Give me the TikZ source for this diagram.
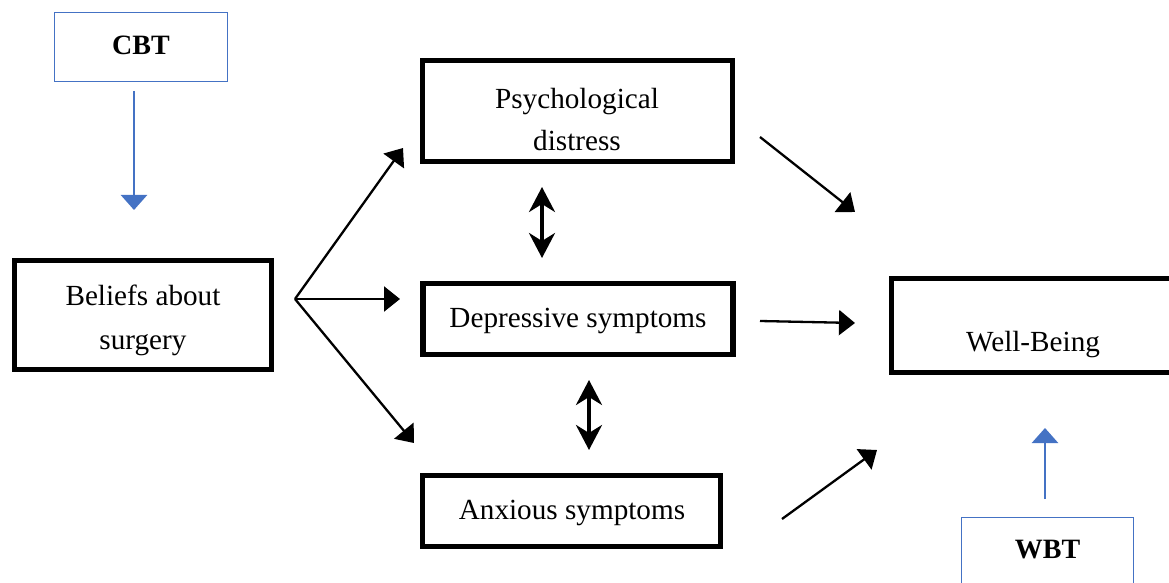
\documentclass[tikz,border=0pt]{standalone}
\usepackage{fontspec}
\setmainfont{Liberation Serif}
\usetikzlibrary{arrows.meta}
\definecolor{wordblue}{HTML}{4472C4}
\tikzset{
  thickbox/.style={draw=black, line width=2.6pt, rectangle, inner sep=0pt, align=center, font=\fontsize{14.6}{21.5}\selectfont},
  bluebox/.style={draw=wordblue, line width=0.6pt, rectangle, inner sep=0pt, align=center, font=\fontsize{14}{17}\selectfont\bfseries},
  txt/.style={inner sep=0pt, align=center, font=\fontsize{14.6}{21}\selectfont},
  arr/.style={line width=1.15pt, -{Triangle[length=8pt,width=12.5pt]}},
  dbl/.style={line width=1.8pt, {Stealth[length=12.5pt,width=13pt,inset=4pt]}-{Stealth[length=12.5pt,width=13pt,inset=4pt]}},
  bluearr/.style={draw=wordblue, line width=1.25pt, -{Triangle[length=7.5pt,width=13pt]}, wordblue},
}
\begin{document}
\begin{tikzpicture}[x=0.5pt, y=-0.5pt]
\useasboundingbox (0,0) rectangle (1169,583);

% boxes
\node[bluebox, minimum width=86.5pt, minimum height=34.5pt] (cbt) at (141,47) {};
\node[txt, font=\fontsize{14}{17}\selectfont\bfseries] (cbtT) at (141,45) {CBT};
\node[thickbox, minimum width=128.5pt, minimum height=54.5pt] (beliefs) at (143,315) {};
\node[txt, font=\fontsize{14.6}{22}\selectfont] (beliefsT) at (143,320) {Beliefs about\\surgery};
\node[thickbox, minimum width=155pt, minimum height=50.5pt] (psych) at (577.5,111) {};
\node[txt] (psychT) at (577,120) {Psychological\\distress};
\node[thickbox, minimum width=155pt, minimum height=35.5pt] (dep) at (578,319) {};
\node[txt] (depT) at (578,321) {Depressive symptoms};
\node[thickbox, minimum width=149pt, minimum height=35.5pt] (anx) at (571.5,511) {};
\node[txt] (anxT) at (572,513) {Anxious symptoms};
\node[thickbox, minimum width=144.25pt, minimum height=47pt] (wb) at (1035.75,325.5) {};
\node[txt] (wbT) at (1033,345) {Well-Being};
\node[bluebox, minimum width=86pt, minimum height=41.25pt] (wbt) at (1047.5,558.75) {};
\node[txt, font=\fontsize{14}{17}\selectfont\bfseries] (wbtT) at (1047.5,550) {WBT};

% connector end points
\coordinate (br) at (295,299);
\coordinate (tPsych) at (403,148);
\coordinate (tDep) at (400,299);
\coordinate (tAnx) at (414,443);
\coordinate (d1a) at (542,187);
\coordinate (d1b) at (542,258);
\coordinate (d2a) at (589,380);
\coordinate (d2b) at (589,450);
\coordinate (pOut) at (760,137);
\coordinate (pIn) at (855,212);
\coordinate (dOut) at (760,321);
\coordinate (dIn) at (855,323);
\coordinate (aOut) at (782,519);
\coordinate (aIn) at (877,450);
\coordinate (cbtOut) at (134,91);
\coordinate (cbtIn) at (134,210);
\coordinate (wbtOut) at (1045,499);
\coordinate (wbtIn) at (1045,428);

% connectors
\draw[arr] (br) -- (tPsych);
\draw[arr] (br) -- (tDep);
\draw[arr] (br) -- (tAnx);
\draw[dbl] (d1a) -- (d1b);
\draw[dbl] (d2a) -- (d2b);
\draw[arr] (pOut) -- (pIn);
\draw[arr] (dOut) -- (dIn);
\draw[arr] (aOut) -- (aIn);
\draw[bluearr] (cbtOut) -- (cbtIn);
\draw[bluearr] (wbtOut) -- (wbtIn);
\end{tikzpicture}
\end{document}
